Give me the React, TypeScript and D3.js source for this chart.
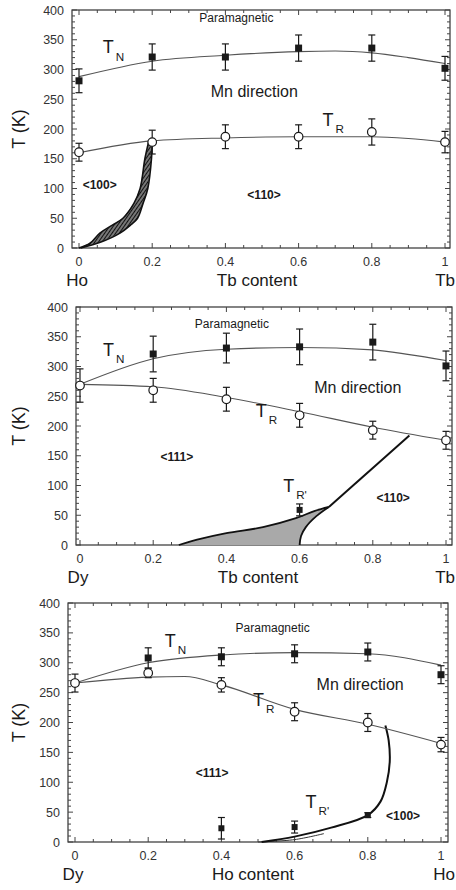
import React from "react";
import * as d3 from "d3";

// ---------- shared axis data ----------
const X_TICKS = [0, 0.2, 0.4, 0.6, 0.8, 1];
const X_TICK_LABELS = ["0", "0.2", "0.4", "0.6", "0.8", "1"];
const X_MINOR = d3.range(0, 1.0001, 0.05);
const Y_TICKS = [0, 50, 100, 150, 200, 250, 300, 350, 400];
const Y_MINOR = d3.range(0, 401, 10);
const COMPOSITION = [0, 0.2, 0.4, 0.6, 0.8, 1];

// ---------- panel 1 : Ho(1-x)Tb(x) ----------
const P1_TN = [281, 321, 321, 336, 336, 302];
const P1_TN_ERR = [20, 22, 22, 22, 22, 20];
const P1_TR = [161, 178, 187, 187, 195, 178];
const P1_TR_ERR = [15, 20, 20, 20, 22, 18];
const P1_TN_LINE: [number, number][] = [[0, 288], [0.2, 314], [0.4, 324], [0.6, 330], [0.7, 331], [0.8, 328], [0.9, 320], [1, 310]];
const P1_TR_LINE: [number, number][] = [[0, 160], [0.2, 180], [0.4, 185], [0.6, 187], [0.8, 187], [0.9, 184], [1, 178]];
const P1_BAND_LEFT: [number, number][] = [[0, 0], [0.03, 8], [0.057, 25], [0.09, 38], [0.12, 50], [0.15, 75], [0.167, 100], [0.18, 150], [0.19, 178]];
const P1_BAND_RIGHT: [number, number][] = [[0.005, 0], [0.06, 10], [0.112, 25], [0.14, 38], [0.16, 50], [0.175, 75], [0.188, 100], [0.198, 150], [0.2, 178]];

// ---------- panel 2 : Dy(1-x)Tb(x) ----------
const P2_TN_X = [0.2, 0.4, 0.6, 0.8, 1];
const P2_TN = [321, 331, 333, 341, 301];
const P2_TN_ERR = [30, 25, 30, 30, 25];
const P2_TR = [268, 260, 245, 218, 193, 176];
const P2_TR_ERR = [28, 20, 20, 20, 15, 15];
const P2_TN_LINE: [number, number][] = [[0, 270], [0.2, 313], [0.4, 329], [0.6, 332], [0.8, 328], [0.9, 320], [1, 310]];
const P2_TR_LINE: [number, number][] = [[0, 270], [0.2, 266], [0.4, 248], [0.6, 224], [0.8, 198], [1, 176]];
const P2_SHADE_UPPER: [number, number][] = [[0.27, 0], [0.32, 9], [0.4, 20], [0.5, 30], [0.59, 45], [0.64, 57], [0.68, 64]];
const P2_SHADE_LOWER: [number, number][] = [[0.68, 64], [0.645, 48], [0.617, 30], [0.604, 15], [0.6, 0]];
const P2_BOUNDARY: [number, number][] = [[0.68, 64], [0.9, 184]];
const P2_TRP_X = [0.6];
const P2_TRP = [59];
const P2_TRP_ERR = [10];

// ---------- panel 3 : Dy(1-x)Ho(x) ----------
const P3_TN_X = [0.2, 0.4, 0.6, 0.8, 1];
const P3_TN = [308, 310, 315, 318, 280];
const P3_TN_ERR = [17, 15, 15, 15, 15];
const P3_TR = [266, 283, 263, 218, 200, 163];
const P3_TR_ERR = [15, 8, 12, 15, 15, 12];
const P3_TN_LINE: [number, number][] = [[0, 266], [0.2, 300], [0.4, 313], [0.6, 317], [0.8, 315], [1, 296]];
const P3_TR_LINE: [number, number][] = [[0, 266], [0.2, 276], [0.3, 277], [0.4, 263], [0.6, 222], [0.8, 197], [1, 165]];
const P3_BOUNDARY: [number, number][] = [[0.51, 0], [0.6, 9], [0.7, 24], [0.8, 45], [0.835, 68], [0.852, 100], [0.86, 135], [0.857, 170], [0.848, 195]];
const P3_BOUNDARY_LOW: [number, number][] = [[0.5, 0], [0.6, 4], [0.68, 14]];
const P3_TRP_X = [0.4, 0.6, 0.8];
const P3_TRP = [23, 25, 45];
const P3_TRP_ERR = [18, 10, 4];

type Layout = { x0: number; x1: number; left: number; right: number; top: number; bottom: number };
type Label = { text: string; sub?: string; x: number; y: number; size: number; bold?: boolean; anchor?: string };

const FONT = "'Liberation Sans', Arial, Helvetica, sans-serif";
const INK = "#1a1a1a";

function Panel(props: {
  layout: Layout;
  leftName: string;
  rightName: string;
  axisName: string;
  tn: { x: number[]; y: number[]; e: number[] };
  tr: { x: number[]; y: number[]; e: number[] };
  trp?: { x: number[]; y: number[]; e: number[] };
  tnLine: [number, number][];
  trLine: [number, number][];
  labels: Label[];
  extra: (x: d3.ScaleLinear<number, number>, y: d3.ScaleLinear<number, number>) => React.ReactNode;
}) {
  const { layout: L } = props;
  const x = d3.scaleLinear().domain([0, 1]).range([L.x0, L.x1]);
  const y = d3.scaleLinear().domain([0, 400]).range([L.bottom, L.top]);
  const thin = d3.line<[number, number]>().x((d) => x(d[0])).y((d) => y(d[1])).curve(d3.curveMonotoneX);
  const cap = 3.5;
  const errBar = (xv: number, yv: number, e: number, key: string) => (
    <g key={key} stroke={INK} strokeWidth={1.2}>
      <line x1={x(xv)} x2={x(xv)} y1={y(yv - e)} y2={y(yv + e)} />
      <line x1={x(xv) - cap} x2={x(xv) + cap} y1={y(yv - e)} y2={y(yv - e)} />
      <line x1={x(xv) - cap} x2={x(xv) + cap} y1={y(yv + e)} y2={y(yv + e)} />
    </g>
  );
  return (
    <g>
      {/* frame */}
      <rect x={L.left} y={L.top} width={L.right - L.left} height={L.bottom - L.top} fill="none" stroke="#333" strokeWidth={1.2} />
      {/* x ticks */}
      {X_MINOR.map((t, i) => {
        const major = X_TICKS.some((m) => Math.abs(m - t) < 1e-6);
        const len = major ? 5 : 3;
        return (
          <g key={"xt" + i} stroke="#444" strokeWidth={1}>
            <line x1={x(t)} x2={x(t)} y1={L.bottom} y2={L.bottom - len} />
            <line x1={x(t)} x2={x(t)} y1={L.top} y2={L.top + len} />
          </g>
        );
      })}
      {Y_MINOR.map((t, i) => {
        const major = t % 50 === 0;
        const len = major ? 5 : 3;
        return (
          <g key={"yt" + i} stroke="#444" strokeWidth={1}>
            <line x1={L.left} x2={L.left + len} y1={y(t)} y2={y(t)} />
            <line x1={L.right} x2={L.right - len} y1={y(t)} y2={y(t)} />
          </g>
        );
      })}
      {Y_TICKS.map((t) => (
        <text key={"yl" + t} x={L.left - 8} y={y(t)} dy="0.36em" textAnchor="end" fontSize={12.5} fill="#333" fontFamily={FONT}>
          {t}
        </text>
      ))}
      {X_TICKS.map((t, i) => (
        <text key={"xl" + i} x={x(t)} y={L.bottom + 18} textAnchor="middle" fontSize={12.5} fill="#333" fontFamily={FONT}>
          {X_TICK_LABELS[i]}
        </text>
      ))}
      <text x={x(0) - 2} y={L.bottom + 38} textAnchor="middle" fontSize={17} fill={INK} fontFamily={FONT}>{props.leftName}</text>
      <text x={x(0.5) - 5} y={L.bottom + 38} textAnchor="middle" fontSize={17} fill={INK} fontFamily={FONT}>{props.axisName}</text>
      <text x={455} y={L.bottom + 38} textAnchor="end" fontSize={17} fill={INK} fontFamily={FONT}>{props.rightName}</text>
      <text transform={`translate(${19},${(L.top + L.bottom) / 2}) rotate(-90)`} textAnchor="middle" dy="0.36em" fontSize={18} fill={INK} fontFamily={FONT}>T (K)</text>

      {props.extra(x, y)}

      {/* guide curves */}
      <path d={thin(props.tnLine) || ""} fill="none" stroke="#555" strokeWidth={1.1} />
      <path d={thin(props.trLine) || ""} fill="none" stroke="#555" strokeWidth={1.1} />

      {/* error bars */}
      {props.tn.x.map((xv, i) => errBar(xv, props.tn.y[i], props.tn.e[i], "tne" + i))}
      {props.tr.x.map((xv, i) => errBar(xv, props.tr.y[i], props.tr.e[i], "tre" + i))}
      {props.trp && props.trp.x.map((xv, i) => errBar(xv, props.trp!.y[i], props.trp!.e[i], "tpe" + i))}

      {/* markers */}
      {props.tn.x.map((xv, i) => (
        <rect key={"tn" + i} x={x(xv) - 3.5} y={y(props.tn.y[i]) - 3.5} width={7} height={7} fill={INK} />
      ))}
      {props.tr.x.map((xv, i) => (
        <circle key={"tr" + i} cx={x(xv)} cy={y(props.tr.y[i])} r={4.3} fill="white" stroke={INK} strokeWidth={1.2} />
      ))}
      {props.trp && props.trp.x.map((xv, i) => (
        <rect key={"tp" + i} x={x(xv) - 3} y={y(props.trp!.y[i]) - 3} width={6} height={6} fill={INK} />
      ))}

      {/* labels */}
      {props.labels.map((lb, i) => (
        <text key={"lb" + i} x={x(lb.x)} y={y(lb.y)} fontSize={lb.size} fontWeight={lb.bold ? "bold" : "normal"} textAnchor={(lb.anchor as any) || "start"} fill={INK} fontFamily={FONT}>
          {lb.text}
          {lb.sub && (
            <tspan fontSize={lb.size * 0.65} dx={2} dy={lb.size * 0.4}>{lb.sub}</tspan>
          )}
        </text>
      ))}
    </g>
  );
}

const P1_LAYOUT: Layout = { x0: 79, x1: 445, left: 72, right: 450, top: 10, bottom: 248 };
const P2_LAYOUT: Layout = { x0: 80, x1: 446, left: 76, right: 452, top: 307, bottom: 545 };
const P3_LAYOUT: Layout = { x0: 75, x1: 441, left: 68, right: 448, top: 603, bottom: 842 };

const P1_LABELS: Label[] = [
  { text: "Paramagnetic", x: 0.43, y: 380, size: 12, anchor: "middle" },
  { text: "T", sub: "N", x: 0.065, y: 327, size: 18 },
  { text: "Mn direction", x: 0.36, y: 254, size: 16 },
  { text: "T", sub: "R", x: 0.665, y: 205, size: 18 },
  { text: "<100>", x: 0.01, y: 100, size: 12, bold: true },
  { text: "<110>", x: 0.46, y: 82, size: 12, bold: true },
];
const P2_LABELS: Label[] = [
  { text: "Paramagnetic", x: 0.415, y: 365, size: 12, anchor: "middle" },
  { text: "T", sub: "N", x: 0.063, y: 318, size: 18 },
  { text: "T", sub: "R", x: 0.48, y: 215, size: 18 },
  { text: "Mn direction", x: 0.64, y: 255, size: 16 },
  { text: "<111>", x: 0.22, y: 141, size: 12, bold: true },
  { text: "T", sub: "R'", x: 0.555, y: 89, size: 18 },
  { text: "<110>", x: 0.81, y: 72, size: 12, bold: true },
];
const P3_LABELS: Label[] = [
  { text: "Paramagnetic", x: 0.54, y: 351, size: 12, anchor: "middle" },
  { text: "T", sub: "N", x: 0.245, y: 327, size: 18 },
  { text: "T", sub: "R", x: 0.486, y: 228, size: 18 },
  { text: "Mn direction", x: 0.66, y: 254, size: 16 },
  { text: "<111>", x: 0.33, y: 109, size: 12, bold: true },
  { text: "T", sub: "R'", x: 0.63, y: 57, size: 18 },
  { text: "<100>", x: 0.85, y: 37, size: 12, bold: true },
];

export default function App() {
  const curvy = (x: any, y: any) =>
    d3.line<[number, number]>().x((d) => x(d[0])).y((d) => y(d[1])).curve(d3.curveCatmullRom.alpha(0.5));
  return (
    <div style={{ position: "absolute", left: 0, top: 0 }}>
      <svg width={456} height={890} style={{ display: "block", background: "white" }}>
        <defs>
          <pattern id="hatch" patternUnits="userSpaceOnUse" width={3} height={3} patternTransform="rotate(35)">
            <rect width={3} height={3} fill="#777" />
            <line x1={0} y1={0} x2={0} y2={3} stroke="#111" strokeWidth={2} />
          </pattern>
        </defs>
        <Panel
          layout={P1_LAYOUT}
          leftName="Ho"
          rightName="Tb"
          axisName="Tb content"
          tn={{ x: COMPOSITION, y: P1_TN, e: P1_TN_ERR }}
          tr={{ x: COMPOSITION, y: P1_TR, e: P1_TR_ERR }}
          tnLine={P1_TN_LINE}
          trLine={P1_TR_LINE}
          labels={P1_LABELS}
          extra={(x, y) => {
            const ln = curvy(x, y);
            const poly = [...P1_BAND_LEFT, ...[...P1_BAND_RIGHT].reverse()];
            const area = d3.line<[number, number]>().x((d) => x(d[0])).y((d) => y(d[1])).curve(d3.curveLinearClosed);
            return (
              <g>
                <path d={area(poly) || ""} fill="url(#hatch)" stroke="none" />
                <path d={ln(P1_BAND_LEFT) || ""} fill="none" stroke="#111" strokeWidth={1.6} />
                <path d={ln(P1_BAND_RIGHT) || ""} fill="none" stroke="#111" strokeWidth={1.6} />
              </g>
            );
          }}
        />
        <Panel
          layout={P2_LAYOUT}
          leftName="Dy"
          rightName="Tb"
          axisName="Tb content"
          tn={{ x: P2_TN_X, y: P2_TN, e: P2_TN_ERR }}
          tr={{ x: COMPOSITION, y: P2_TR, e: P2_TR_ERR }}
          trp={{ x: P2_TRP_X, y: P2_TRP, e: P2_TRP_ERR }}
          tnLine={P2_TN_LINE}
          trLine={P2_TR_LINE}
          labels={P2_LABELS}
          extra={(x, y) => {
            const ln = curvy(x, y);
            const upper = ln(P2_SHADE_UPPER) || "";
            const lower = ln(P2_SHADE_LOWER) || "";
            const shade = upper + lower.replace(/^M/, "L") + "Z";
            return (
              <g>
                <path d={shade} fill="#a9a9a9" stroke="none" />
                <path d={upper} fill="none" stroke="#111" strokeWidth={1.8} />
                <path d={lower} fill="none" stroke="#111" strokeWidth={1.8} />
                <path d={ln(P2_BOUNDARY) || ""} fill="none" stroke="#111" strokeWidth={2} />
              </g>
            );
          }}
        />
        <Panel
          layout={P3_LAYOUT}
          leftName="Dy"
          rightName="Ho"
          axisName="Ho content"
          tn={{ x: P3_TN_X, y: P3_TN, e: P3_TN_ERR }}
          tr={{ x: COMPOSITION, y: P3_TR, e: P3_TR_ERR }}
          trp={{ x: P3_TRP_X, y: P3_TRP, e: P3_TRP_ERR }}
          tnLine={P3_TN_LINE}
          trLine={P3_TR_LINE}
          labels={P3_LABELS}
          extra={(x, y) => {
            const ln = curvy(x, y);
            return (
              <g>
                <path d={ln(P3_BOUNDARY_LOW) || ""} fill="none" stroke="#333" strokeWidth={1} />
                <path d={ln(P3_BOUNDARY) || ""} fill="none" stroke="#111" strokeWidth={2} />
              </g>
            );
          }}
        />
      </svg>
    </div>
  );
}
